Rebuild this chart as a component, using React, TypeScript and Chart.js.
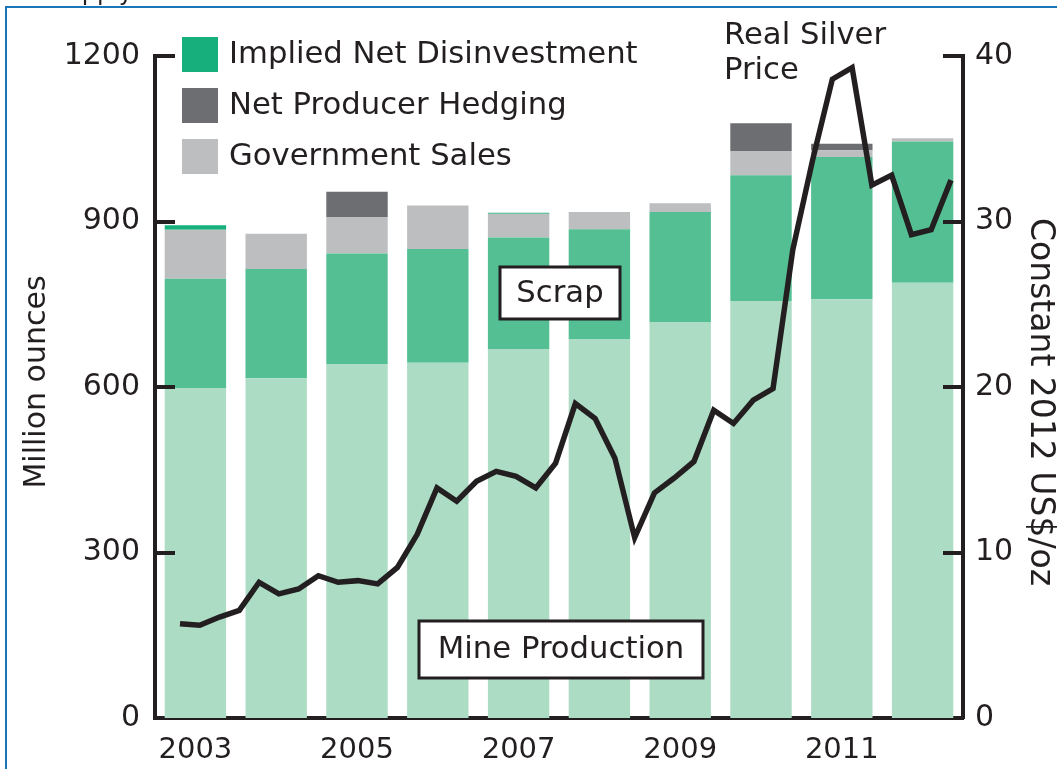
import React, { useEffect, useRef } from 'react';
import { Chart, registerables } from 'chart.js';

Chart.register(...registerables);

// ---- Data ----
const YEARS = ['2003', '2004', '2005', '2006', '2007', '2008', '2009', '2010', '2011', '2012'];
const X_TICK_LABELS = ['2003', '2005', '2007', '2009', '2011'];

const MINE_PRODUCTION = [598, 616, 641, 644, 668, 686, 717, 756, 759, 789];
const SCRAP = [198, 198, 201, 206, 203, 200, 200, 228, 258, 256];
const GOVERNMENT_SALES = [89, 64, 66, 79, 43, 31, 16, 44, 12, 6];
const NET_PRODUCER_HEDGING = [0, 0, 46, 0, 0, 0, 0, 50, 12, 0];
const IMPLIED_NET_DISINVESTMENT = [8, 0, 0, 0, 2, 0, 0, 0, 0, 0];

const Y_TICKS = [0, 300, 600, 900, 1200];
const Y1_TICKS = [0, 10, 20, 30, 40];

const QUARTERS = [
  '2003Q1', '2003Q2', '2003Q3', '2003Q4', '2004Q1', '2004Q2', '2004Q3', '2004Q4',
  '2005Q1', '2005Q2', '2005Q3', '2005Q4', '2006Q1', '2006Q2', '2006Q3', '2006Q4',
  '2007Q1', '2007Q2', '2007Q3', '2007Q4', '2008Q1', '2008Q2', '2008Q3', '2008Q4',
  '2009Q1', '2009Q2', '2009Q3', '2009Q4', '2010Q1', '2010Q2', '2010Q3', '2010Q4',
  '2011Q1', '2011Q2', '2011Q3', '2011Q4', '2012Q1', '2012Q2', '2012Q3', '2012Q4',
];
const REAL_SILVER_PRICE = [
  5.7, 5.6, 6.1, 6.5, 8.2, 7.5, 7.8, 8.6,
  8.2, 8.3, 8.1, 9.1, 11.1, 13.9, 13.1, 14.3,
  14.9, 14.6, 13.9, 15.4, 19.0, 18.1, 15.7, 10.9,
  13.6, 14.5, 15.5, 18.6, 17.8, 19.2, 19.9, 28.3,
  33.7, 38.6, 39.3, 32.2, 32.8, 29.2, 29.5, 32.5,
];

// ---- Styles ----
const FONT = '"DejaVu Sans", Verdana, sans-serif';
const INK = '#231f20';
const C_MINE = '#addcc5';
const C_SCRAP = '#55bf94';
const C_GOV = '#bcbec0';
const C_HEDGE = '#6d6e71';
const C_DISINV = '#17b07c';
const C_FRAME = '#1b75bb';

const overlayPlugin = {
  id: 'overlay',
  beforeDraw(chart: any) {
    const ctx = chart.ctx;
    ctx.save();
    ctx.fillStyle = '#ffffff';
    ctx.fillRect(0, 0, chart.width, chart.height);
    ctx.strokeStyle = C_FRAME;
    ctx.lineWidth = 2;
    ctx.strokeRect(6, 7, chart.width + 20, chart.height + 20);
    ctx.fillStyle = INK;
    ctx.font = `24px ${FONT}`;
    ctx.textAlign = 'right';
    ctx.textBaseline = 'alphabetic';
    ctx.fillText('Supply', 133, 0);
    ctx.restore();
  },
  afterDraw(chart: any) {
    const ctx = chart.ctx;
    const area = chart.chartArea;
    const yS = chart.scales.y;
    const y1S = chart.scales.y1;
    ctx.save();
    // inward tick marks
    ctx.strokeStyle = INK;
    ctx.lineWidth = 4;
    ctx.lineCap = 'butt';
    Y_TICKS.forEach((v) => {
      if (v === 0) return;
      const py = Math.round(yS.getPixelForValue(v));
      ctx.beginPath();
      ctx.moveTo(area.left - 2, py);
      ctx.lineTo(area.left + 20, py);
      ctx.stroke();
    });
    Y1_TICKS.forEach((v) => {
      if (v === 0) return;
      const py = Math.round(y1S.getPixelForValue(v));
      ctx.beginPath();
      ctx.moveTo(area.right + 2, py);
      ctx.lineTo(area.right - 20, py);
      ctx.stroke();
    });

    // legend
    const items = [
      { label: 'Implied Net Disinvestment', color: C_DISINV, y: 37 },
      { label: 'Net Producer Hedging', color: C_HEDGE, y: 88 },
      { label: 'Government Sales', color: C_GOV, y: 139 },
    ];
    ctx.font = `30.7px ${FONT}`;
    ctx.textAlign = 'left';
    ctx.textBaseline = 'middle';
    items.forEach((it) => {
      ctx.fillStyle = it.color;
      ctx.fillRect(182, it.y, 36, 35);
      ctx.fillStyle = INK;
      ctx.fillText(it.label, 229, it.y + 18);
    });

    // Real Silver Price label
    ctx.fillText('Real Silver', 724, 36);
    ctx.fillText('Price', 724, 71);

    // boxed labels
    const box = (x: number, y: number, w: number, h: number, text: string) => {
      ctx.fillStyle = '#ffffff';
      ctx.fillRect(x, y, w, h);
      ctx.strokeStyle = INK;
      ctx.lineWidth = 3;
      ctx.strokeRect(x, y, w, h);
      ctx.fillStyle = INK;
      ctx.textAlign = 'center';
      ctx.fillText(text, x + w / 2, y + h / 2 + 1);
    };
    box(500, 267, 120, 52, 'Scrap');
    box(419, 621, 284, 57, 'Mine Production');

    // axis titles
    ctx.textAlign = 'center';
    ctx.textBaseline = 'middle';
    ctx.save();
    ctx.translate(37, 382);
    ctx.rotate(-Math.PI / 2);
    ctx.font = `30px ${FONT}`;
    ctx.fillText('Million ounces', 0, 0);
    ctx.restore();
    ctx.save();
    ctx.translate(1040, 402);
    ctx.rotate(Math.PI / 2);
    ctx.font = `33px ${FONT}`;
    ctx.fillText('Constant 2012 US$/oz', 0, 0);
    ctx.restore();

    ctx.restore();
  },
};

export default function App() {
  const canvasRef = useRef<HTMLCanvasElement | null>(null);

  useEffect(() => {
    const canvas = canvasRef.current;
    if (!canvas) return;
    const barDs = (label: string, data: number[], color: string) => ({
      type: 'bar' as const,
      label,
      data,
      backgroundColor: color,
      borderWidth: 0,
      xAxisID: 'x',
      yAxisID: 'y',
      stack: 'supply',
      order: 1,
      grouped: false,
      barPercentage: 0.76,
      categoryPercentage: 1.0,
    });
    const chart = new Chart(canvas, {
      type: 'bar',
      data: {
        labels: YEARS,
        datasets: [
          barDs('Mine Production', MINE_PRODUCTION, C_MINE),
          barDs('Scrap', SCRAP, C_SCRAP),
          barDs('Government Sales', GOVERNMENT_SALES, C_GOV),
          barDs('Net Producer Hedging', NET_PRODUCER_HEDGING, C_HEDGE),
          barDs('Implied Net Disinvestment', IMPLIED_NET_DISINVESTMENT, C_DISINV),
          {
            type: 'line' as const,
            label: 'Real Silver Price',
            data: REAL_SILVER_PRICE.map((v, i) => ({ x: i, y: v, q: QUARTERS[i] })) as any,
            borderColor: INK,
            borderWidth: 5.5,
            borderJoinStyle: 'miter',
            pointRadius: 0,
            tension: 0,
            fill: false,
            xAxisID: 'xq',
            yAxisID: 'y1',
            order: 0,
          } as any,
        ],
      },
      options: {
        responsive: false,
        animation: false,
        devicePixelRatio: 1,
        layout: { padding: { top: 56, left: 0, right: 0, bottom: 0 } },
        plugins: { legend: { display: false }, tooltip: { enabled: false }, title: { display: false } },
        scales: {
          x: {
            type: 'category',
            stacked: true,
            offset: true,
            z: 1,
            grid: { display: false, drawTicks: false, offset: true },
            border: { display: true, width: 4, color: INK },
            ticks: {
              autoSkip: false,
              maxRotation: 0,
              padding: 15,
              color: INK,
              font: { family: FONT, size: 29 },
              callback: function (this: any, val: any) {
                const l = this.getLabelForValue(val);
                return X_TICK_LABELS.includes(l) ? l : '';
              },
            },
            afterFit: (s: any) => { s.height = 51; },
          },
          xq: {
            type: 'linear',
            display: false,
            offset: false,
            bounds: 'data',
            grid: { offset: false },
            min: -1.265,
            max: 39.61,
          },
          y: {
            position: 'left',
            stacked: true,
            min: 0,
            max: 1200,
            z: 1,
            grid: { display: false, drawTicks: false },
            border: { display: true, width: 4, color: INK },
            ticks: {
              stepSize: 300, padding: 15, color: INK, font: { family: FONT, size: 30 },
              callback: (v: any) => String(v),
            },
            afterFit: (s: any) => { s.width = 155; },
          },
          y1: {
            position: 'right',
            min: 0,
            max: 40,
            z: 1,
            grid: { display: false, drawTicks: false },
            border: { display: true, width: 4, color: INK },
            ticks: {
              stepSize: 10, padding: 12, color: INK, font: { family: FONT, size: 30 },
              callback: (v: any) => String(v),
            },
            afterFit: (s: any) => { s.width = 94; },
          },
        },
      } as any,
      plugins: [overlayPlugin],
    });
    return () => chart.destroy();
  }, []);

  return (
    <div style={{ position: 'fixed', left: 0, top: 0, width: 1057, height: 769, background: '#fff' }}>
      <canvas ref={canvasRef} width={1057} height={769} style={{ display: 'block' }} />
    </div>
  );
}
